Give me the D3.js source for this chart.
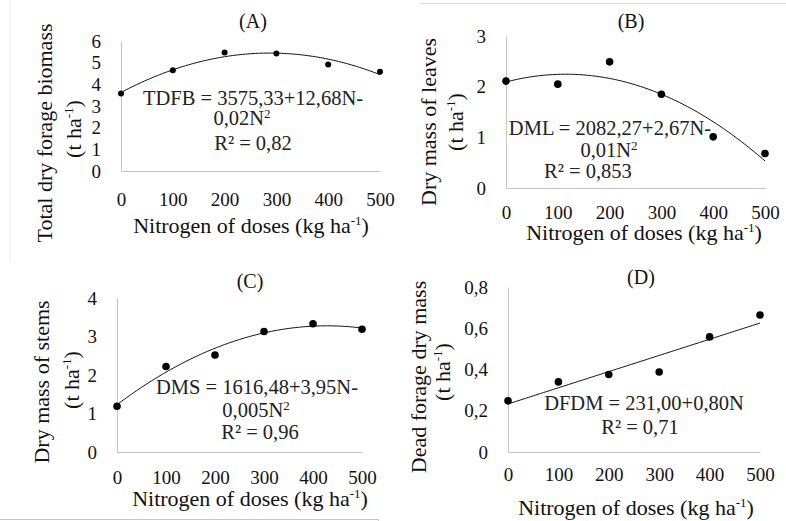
<!DOCTYPE html>
<html>
<head>
<meta charset="utf-8">
<script src="https://cdn.jsdelivr.net/npm/d3@7"></script>
<style>
  body { margin: 0; background: #fff; }
</style>
</head>
<body>
<svg width="786" height="521"></svg>
<script>
// Nitrogen doses (kg ha-1)
const doses = [0, 100, 200, 300, 400, 500];

// Values (t ha-1)
const tdfb = [3.58, 4.65, 5.47, 5.42, 4.92, 4.58];
const dml = [2.11, 2.05, 2.49, 1.85, 1.01, 0.68];
const dms = [1.19, 2.22, 2.52, 3.13, 3.33, 3.19];
const dfdm = [0.248, 0.34, 0.376, 0.388, 0.558, 0.664];

const ticksA = [0, 1, 2, 3, 4, 5, 6];
const ticksB = [0, 1, 2, 3];
const ticksC = [0, 1, 2, 3, 4];
const ticksD = [0, 0.2, 0.4, 0.6, 0.8];

const xTitle = 'Nitrogen of doses (kg ha';
const axisColor = '#c4c4c4';
const FONT = "'Liberation Serif', 'Times New Roman', serif";

// Layout of each panel (pixel boxes, label spots)
const panels = [
    {
        id: 'A', values: tdfb, ticks: ticksA, order: 2, r: 3,
        x0: 121, x1: 380, y0: 171, yTop: 41,
        tickY: 206, titleY: 233, titleX: 251,
        head: [253, 28],
        yTitle: ['Total dry forage biomass', [52, 133]], yUnit: [81, 129],
        eq: [['TDFB = 3575,33+12,68N-', 253, 105], ['0,02N', 242, 125, true], ['R² = 0,82', 253, 150]]
    },
    {
        id: 'B', values: dml, ticks: ticksB, order: 2, r: 3.8,
        x0: 506, x1: 765, y0: 188, yTop: 36,
        tickY: 219, titleY: 240, titleX: 644,
        head: [631, 28],
        yTitle: ['Dry mass of leaves', [436, 122]], yUnit: [463, 122],
        eq: [['DML = 2082,27+2,67N-', 610, 135], ['0,01N', 609, 157, true], ['R² = 0,853', 588, 178]]
    },
    {
        id: 'C', values: dms, ticks: ticksC, order: 2, r: 3.8,
        x0: 117, x1: 362, y0: 452, yTop: 298,
        tickY: 484, titleY: 506, titleX: 250,
        head: [250, 288],
        yTitle: ['Dry mass of stems', [49, 382]], yUnit: [79, 380],
        eq: [['DMS = 1616,48+3,95N-', 257, 394], ['0,005N', 256, 417, true], ['R² = 0,96', 260, 439]]
    },
    {
        id: 'D', values: dfdm, ticks: ticksD, order: 1, r: 3.8,
        x0: 508, x1: 760, y0: 452, yTop: 287,
        tickY: 481, titleY: 515, titleX: 636,
        head: [641, 284],
        yTitle: ['Dead forage dry mass', [426, 377]], yUnit: [450, 372],
        eq: [['DFDM = 231,00+0,80N', 644, 410], ['R² = 0,71', 640, 434]]
    }
];

// Least squares polynomial (order 1 or 2), like the spreadsheet trendline
function polyFit(xs, ys, order) {
    const n = order + 1;
    const A = [];
    for (let i = 0; i < n; i++) {
        A.push([]);
        for (let j = 0; j < n; j++) A[i].push(d3.sum(xs, x => Math.pow(x, i + j)));
        A[i].push(d3.sum(xs, (x, k) => ys[k] * Math.pow(x, i)));
    }
    // gaussian elimination
    for (let i = 0; i < n; i++) {
        for (let k = i + 1; k < n; k++) {
            const f = A[k][i] / A[i][i];
            for (let j = i; j <= n; j++) A[k][j] -= f * A[i][j];
        }
    }
    const c = new Array(n).fill(0);
    for (let i = n - 1; i >= 0; i--) {
        let s = A[i][n];
        for (let j = i + 1; j < n; j++) s -= A[i][j] * c[j];
        c[i] = s / A[i][i];
    }
    return x => c.reduce((acc, ci, i) => acc + ci * Math.pow(x, i), 0);
}

const svg = d3.select('svg');

// faint page edges from the source layout
svg.append('line').attr('x1', 10).attr('x2', 10).attr('y1', 0).attr('y2', 262)
    .attr('stroke', '#ececec');
svg.append('line').attr('x1', 420).attr('x2', 786).attr('y1', 3.5).attr('y2', 3.5)
    .attr('stroke', '#d8d8d8');
svg.append('path').attr('d', 'M0,519.5H378.5V521')
    .attr('fill', 'none').attr('stroke', '#c8c8c8');

panels.forEach(p => {
    const g = svg.append('g').attr('class', 'panel-' + p.id);
    const fmt = v => String(v).replace('.', ',');

    const x = d3.scaleLinear().domain([0, 500]).range([p.x0, p.x1]);
    const y = d3.scaleLinear().domain([0, d3.max(p.ticks)]).range([p.y0, p.yTop]);

    // axes: only the lines, labels drawn by the axis generator
    const yAxis = g.append('g')
        .attr('transform', `translate(${p.x0},0)`)
        .call(d3.axisLeft(y).tickValues(p.ticks).tickSize(0).tickPadding(20).tickFormat(fmt));
    yAxis.select('.domain').attr('stroke', axisColor);
    yAxis.selectAll('text').attr('font-size', 19).attr('fill', '#111')
        .style('font-family', FONT);

    const xAxis = g.append('g')
        .attr('transform', `translate(0,${p.y0})`)
        .call(d3.axisBottom(x).tickValues(doses).tickSize(0).tickFormat(d3.format('d')));
    xAxis.select('.domain').attr('stroke', axisColor);
    xAxis.selectAll('text').attr('font-size', 19).attr('fill', '#111')
        .style('font-family', FONT)
        .attr('dy', null).attr('y', p.tickY - p.y0);

    // trend line
    const f = polyFit(doses, p.values, p.order);
    const curvePts = d3.range(0, 501, 5);
    g.append('path')
        .datum(curvePts)
        .attr('fill', 'none')
        .attr('stroke', '#111')
        .attr('stroke-width', 1)
        .attr('d', d3.line().x(d => x(d)).y(d => y(f(d))));

    // points
    g.selectAll('circle.pt')
        .data(doses.map((d, i) => ({ n: d, v: p.values[i] })))
        .join('circle')
        .attr('class', 'pt')
        .attr('cx', d => x(d.n))
        .attr('cy', d => y(d.v))
        .attr('r', p.r)
        .attr('fill', '#000');

    // panel letter
    g.append('text')
        .attr('x', p.head[0]).attr('y', p.head[1])
        .attr('text-anchor', 'middle').attr('font-size', 20).attr('fill', '#111')
        .style('font-family', FONT)
        .text(`(${p.id})`);

    // x axis title with superscript
    const xt = g.append('text')
        .attr('x', p.titleX).attr('y', p.titleY)
        .attr('text-anchor', 'middle').attr('font-size', 22).attr('fill', '#111')
        .style('font-family', FONT);
    xt.append('tspan').text(xTitle);
    xt.append('tspan').attr('font-size', 13).attr('dy', -8).text('-1');
    xt.append('tspan').attr('dy', 8).text(')');

    // y axis title, two rotated lines
    g.append('text')
        .attr('transform', `translate(${p.yTitle[1][0]},${p.yTitle[1][1]}) rotate(-90)`)
        .attr('text-anchor', 'middle').attr('font-size', 22).attr('fill', '#111')
        .style('font-family', FONT)
        .text(p.yTitle[0]);
    const yu = g.append('text')
        .attr('transform', `translate(${p.yUnit[0]},${p.yUnit[1]}) rotate(-90)`)
        .attr('text-anchor', 'middle').attr('font-size', 22).attr('fill', '#111')
        .style('font-family', FONT);
    yu.append('tspan').text('(t ha');
    yu.append('tspan').attr('font-size', 13).attr('dy', -8).text('-1');
    yu.append('tspan').attr('dy', 8).text(')');

    // equation
    p.eq.forEach(([txt, ex, ey, sq]) => {
        const t = g.append('text')
            .attr('x', ex).attr('y', ey)
            .attr('text-anchor', 'middle').attr('font-size', 20.5).attr('fill', '#222')
            .style('font-family', FONT);
        t.append('tspan').text(txt);
        if (sq) t.append('tspan').attr('font-size', 13).attr('dy', -7).text('2');
    });
});
</script>
</body>
</html>
